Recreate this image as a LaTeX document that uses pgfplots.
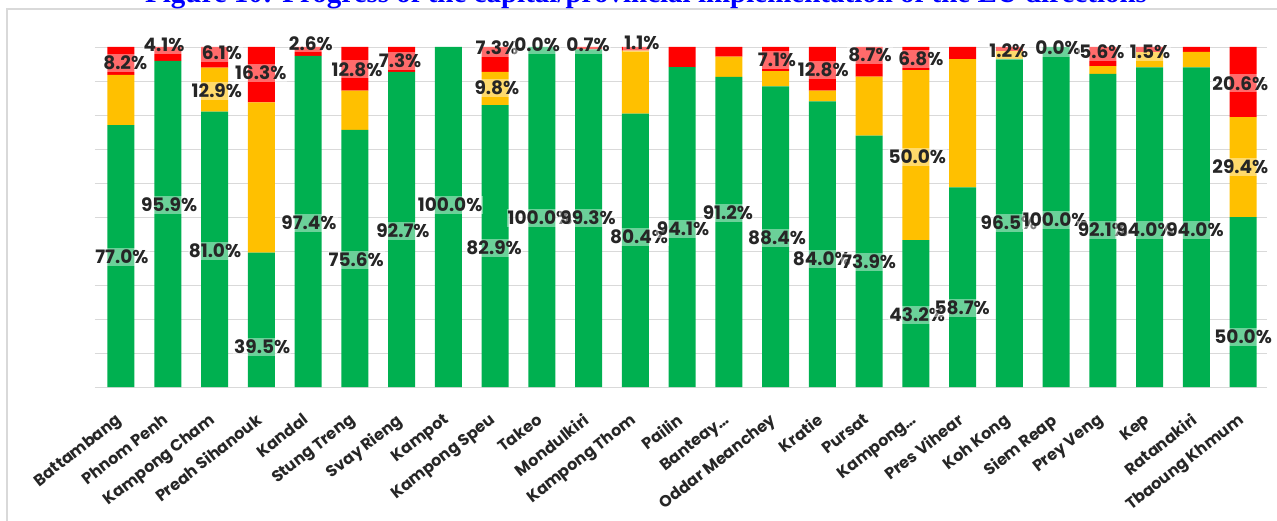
\documentclass[border=0pt]{standalone}
\usepackage{fontspec}
\setmainfont{Poppins}
\newfontfamily\titlefont{Liberation Serif}
\usepackage{pgfplots}
\usepackage{pgfplotstable}
\pgfplotsset{compat=1.18}

\definecolor{done}{HTML}{00B050}
\definecolor{ongoing}{HTML}{FFC000}
\definecolor{notdone}{HTML}{FF0000}
\definecolor{labtext}{HTML}{262626}
\definecolor{gridgray}{HTML}{D9D9D9}
\definecolor{titleblue}{HTML}{0000FF}

\tikzset{vlabel/.style={fill=white, fill opacity=0.42, text opacity=1, text=labtext,
    font=\bfseries\fontsize{18.5}{19}\selectfont, inner xsep=1pt, inner ysep=2pt}}

% Share of EU directions per capital/province (percent)
\pgfplotstableread{
idx green yellow red
0  77.0 14.8  8.2
1  95.9  0.0  4.1
2  81.0 12.9  6.1
3  39.5 44.2 16.3
4  97.4  0.0  2.6
5  75.6 11.6 12.8
6  92.7  0.0  7.3
7 100.0  0.0  0.0
8  82.9  9.8  7.3
9 100.0  0.0  0.0
10 99.3  0.0  0.7
11 80.4 18.5  1.1
12 94.1  0.0  5.9
13 91.2  6.0  2.8
14 88.4  4.5  7.1
15 84.0  3.2 12.8
16 73.9 17.4  8.7
17 43.2 50.0  6.8
18 58.7 37.7  3.6
19 96.5  2.3  1.2
20 100.0 0.0  0.0
21 92.1  2.3  5.6
22 94.0  4.5  1.5
23 94.0  4.6  1.4
24 50.0 29.4 20.6
}\provdata

% a value label: anchor point inside the axis, text drawn after the bars
\makeatletter
\def\labellist{}
\newcommand{\lab}[4]{\coordinate (#1) at (axis cs:#2,#3);%
  \g@addto@macro\labellist{\node[vlabel] at (#1) {#4};}}
\makeatother

\begin{document}
\begin{tikzpicture}
\useasboundingbox (0pt,0pt) rectangle (1277pt,520pt);
% outer frame of the chart
\draw[gray!30, line width=1.2pt] (7pt,-10pt) rectangle (1300pt,511pt);
% caption
\node[anchor=base, font=\titlefont\bfseries\fontsize{29}{33}\selectfont, text=titleblue]
  at (646pt,517pt) {Figure 10: Progress of the capital/provincial implementation of the EU directions};
\begin{axis}[
  clip=false,
  at={(95pt,133pt)}, anchor=south west,
  scale only axis, width=1172pt, height=340pt,
  xmin=-0.556, xmax=24.51, ymin=0, ymax=100,
  ybar stacked, bar width=27pt,
  axis line style={draw=none},
  ytick={0,10,...,100}, yticklabels={},
  ymajorgrids, grid style={gridgray, line width=0.8pt},
  major tick length=0pt,
  xtick={0,...,24},
  xticklabels={Battambang, Phnom Penh, Kampong Cham, Preah Sihanouk, Kandal,
    Stung Treng, Svay Rieng, Kampot, Kampong Speu, Takeo, Mondulkiri,
    Kampong Thom, Pailin, Banteay…, Oddar Meanchey, Kratie, Pursat,
    Kampong…, Pres Vihear, Koh Kong, Siem Reap, Prey Veng, Kep, Ratanakiri,
    Tbaoung Khmum},
  xticklabel style={rotate=38, anchor=north east, font=\bfseries\fontsize{16}{17}\selectfont,
    text=labtext, xshift=-17pt, yshift=-13pt},
]
\addplot[draw=none, fill=done] table[x=idx, y=green] {\provdata};
\addplot[draw=none, fill=ongoing] table[x=idx, y=yellow] {\provdata};
\addplot[draw=none, fill=notdone] table[x=idx, y=red] {\provdata};

\lab{l1}{0.09}{95.3}{8.2\%}
\lab{l2}{0.02}{38.2}{77.0\%}
\lab{l3}{0.92}{100.6}{4.1\%}
\lab{l4}{1.03}{53.5}{95.9\%}
\lab{l5}{2.16}{98.2}{6.1\%}
\lab{l6}{2.05}{87.1}{12.9\%}
\lab{l7}{2.01}{40.0}{81.0\%}
\lab{l8}{2.99}{92.3}{16.3\%}
\lab{l9}{3.02}{11.8}{39.5\%}
\lab{l10}{4.06}{101.1}{2.6\%}
\lab{l11}{4.02}{48.2}{97.4\%}
\lab{l12}{5.05}{93.4}{12.8\%}
\lab{l13}{5.03}{37.4}{75.6\%}
\lab{l14}{5.97}{96.0}{7.3\%}
\lab{l15}{6.03}{45.9}{92.7\%}
\lab{l16}{7.04}{53.5}{100.0\%}
\lab{l17}{8.04}{99.7}{7.3\%}
\lab{l18}{8.04}{88.0}{9.8\%}
\lab{l19}{7.98}{40.9}{82.9\%}
\lab{l20}{8.9}{100.6}{0.0\%}
\lab{l21}{8.96}{49.7}{100.0\%}
\lab{l22}{9.99}{100.6}{0.7\%}
\lab{l23}{9.99}{49.7}{99.3\%}
\lab{l24}{11.14}{101.1}{1.1\%}
\lab{l25}{11.08}{44.1}{80.4\%}
\lab{l26}{12.02}{46.5}{94.1\%}
\lab{l27}{12.98}{51.2}{91.2\%}
\lab{l28}{14.03}{96.2}{7.1\%}
\lab{l29}{14.03}{43.8}{88.4\%}
\lab{l30}{15.02}{93.2}{12.8\%}
\lab{l31}{14.99}{37.6}{84.0\%}
\lab{l32}{16.02}{97.6}{8.7\%}
\lab{l33}{16.0}{36.8}{73.9\%}
\lab{l34}{17.11}{96.5}{6.8\%}
\lab{l35}{17.03}{67.6}{50.0\%}
\lab{l36}{17.03}{21.2}{43.2\%}
\lab{l37}{17.99}{23.2}{58.7\%}
\lab{l38}{18.99}{98.9}{1.2\%}
\lab{l39}{18.99}{48.2}{96.5\%}
\lab{l40}{20.04}{99.7}{0.0\%}
\lab{l41}{19.98}{49.1}{100.0\%}
\lab{l42}{20.98}{98.6}{5.6\%}
\lab{l43}{21.0}{46.2}{92.1\%}
\lab{l44}{22.01}{98.6}{1.5\%}
\lab{l45}{21.9}{46.2}{94.0\%}
\lab{l46}{22.97}{46.2}{94.0\%}
\lab{l47}{23.94}{89.3}{20.6\%}
\lab{l48}{23.94}{64.8}{29.4\%}
\lab{l49}{24.0}{14.7}{50.0\%}
\end{axis}
\labellist
\end{tikzpicture}
\end{document}
